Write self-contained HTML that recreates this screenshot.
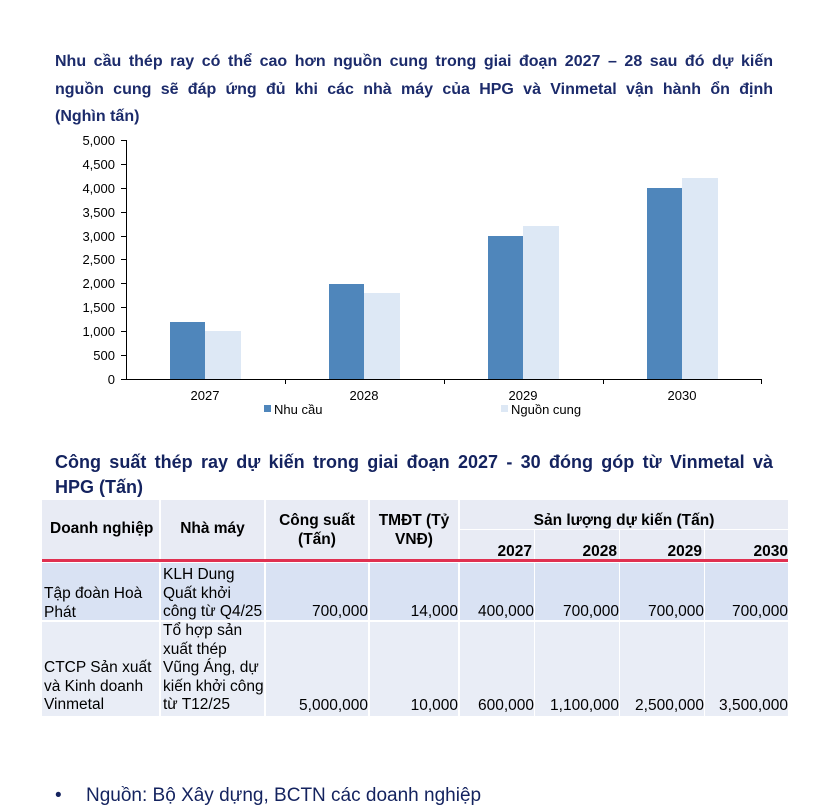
<!DOCTYPE html>
<html><head><meta charset="utf-8"><style>
body{margin:0;background:#fff;width:826px;height:811px;position:relative;overflow:hidden;font-family:"Liberation Sans",Arial,sans-serif}
.t{position:absolute;color:#1c2b6b;font-weight:bold;font-size:16px;white-space:nowrap}
.j{text-align:justify;text-align-last:justify}
.c{position:absolute;box-sizing:border-box;font-size:15.5px;color:#000;line-height:18.5px;white-space:nowrap}
</style></head><body>
<div class="t j" style="left:55px;top:52px;width:718px;line-height:20px">Nhu cầu thép ray có thể cao hơn nguồn cung trong giai đoạn 2027 – 28 sau đó dự kiến</div>
<div class="t j" style="left:55px;top:80px;width:718px;line-height:20px">nguồn cung sẽ đáp ứng đủ khi các nhà máy của HPG và Vinmetal vận hành ổn định</div>
<div class="t" style="left:55px;top:107px;line-height:20px">(Nghìn tấn)</div>
<svg style="position:absolute;left:0;top:0" width="826" height="430" font-family="Liberation Sans,Arial,sans-serif" font-size="13">
<g fill="#000" text-anchor="end">
<text x="115" y="145">5,000</text>
<text x="115" y="169">4,500</text>
<text x="115" y="193">4,000</text>
<text x="115" y="217">3,500</text>
<text x="115" y="241">3,000</text>
<text x="115" y="264">2,500</text>
<text x="115" y="288">2,000</text>
<text x="115" y="312">1,500</text>
<text x="115" y="336">1,000</text>
<text x="115" y="360">500</text>
<text x="115" y="384">0</text>
</g>
<g stroke="#000" stroke-width="1">
<line x1="126.5" y1="140" x2="126.5" y2="379"/>
<line x1="121" y1="379.5" x2="762" y2="379.5"/>
<line x1="121" y1="140.5" x2="126" y2="140.5"/><line x1="121" y1="164.5" x2="126" y2="164.5"/><line x1="121" y1="188.5" x2="126" y2="188.5"/><line x1="121" y1="212.5" x2="126" y2="212.5"/><line x1="121" y1="236.5" x2="126" y2="236.5"/><line x1="121" y1="259.5" x2="126" y2="259.5"/><line x1="121" y1="283.5" x2="126" y2="283.5"/><line x1="121" y1="307.5" x2="126" y2="307.5"/><line x1="121" y1="331.5" x2="126" y2="331.5"/><line x1="121" y1="355.5" x2="126" y2="355.5"/>
<line x1="285.5" y1="379" x2="285.5" y2="384"/><line x1="444.5" y1="379" x2="444.5" y2="384"/><line x1="603.5" y1="379" x2="603.5" y2="384"/><line x1="761.5" y1="379" x2="761.5" y2="384"/>
</g>
<g fill="#4f86bb">
<rect x="170" y="322" width="35" height="57"/><rect x="329" y="284" width="35" height="95"/><rect x="488" y="236" width="35" height="143"/><rect x="647" y="188" width="35" height="191"/>
</g>
<g fill="#dde8f5">
<rect x="205" y="331" width="36" height="48"/><rect x="364" y="293" width="36" height="86"/><rect x="523" y="226" width="36" height="153"/><rect x="682" y="178" width="36" height="201"/>
</g>
<g text-anchor="middle"><text x="205" y="400">2027</text><text x="364" y="400">2028</text><text x="523" y="400">2029</text><text x="682" y="400">2030</text></g>
<rect x="264" y="405" width="7" height="7" fill="#4f86bb"/><text x="274" y="414">Nhu cầu</text>
<rect x="501" y="405" width="7" height="7" fill="#dde8f5"/><text x="511" y="414">Nguồn cung</text>
</svg>
<div class="t j" style="left:55px;top:450px;width:718px;line-height:25px;font-size:18px;color:#14235f">Công suất thép ray dự kiến trong giai đoạn 2027 - 30 đóng góp từ Vinmetal và</div>
<div class="t" style="left:55px;top:475px;line-height:25px;font-size:18px;color:#14235f">HPG (Tấn)</div>
<!-- header -->
<div class="c" style="left:42px;top:500px;width:117px;height:59px;background:#e8ebf4;font-weight:bold;padding:20px 0 0 8px">Doanh nghiệp</div>
<div class="c" style="left:161px;top:500px;width:103px;height:59px;background:#e8ebf4;font-weight:bold;text-align:center;padding-top:20px">Nhà máy</div>
<div class="c" style="left:266px;top:500px;width:102px;height:59px;background:#e8ebf4;font-weight:bold;text-align:center;padding-top:12px">Công suất<br>(Tấn)</div>
<div class="c" style="left:370px;top:500px;width:88px;height:59px;background:#e8ebf4;font-weight:bold;text-align:center;padding-top:12px">TMĐT (Tỷ<br>VNĐ)</div>
<div class="c" style="left:460px;top:500px;width:328px;height:29px;background:#e8ebf4;font-weight:bold;text-align:center;padding-top:12px">Sản lượng dự kiến (Tấn)</div>
<div class="c" style="left:460px;top:530px;width:74px;height:29px;background:#e8ebf4;font-weight:bold;text-align:right;padding:14px 2px 0 0;line-height:16px">2027</div>
<div class="c" style="left:535px;top:530px;width:84px;height:29px;background:#e8ebf4;font-weight:bold;text-align:right;padding:14px 2px 0 0;line-height:16px">2028</div>
<div class="c" style="left:620px;top:530px;width:84px;height:29px;background:#e8ebf4;font-weight:bold;text-align:right;padding:14px 2px 0 0;line-height:16px">2029</div>
<div class="c" style="left:705px;top:530px;width:83px;height:29px;background:#e8ebf4;font-weight:bold;text-align:right;padding:14px 0 0 0;line-height:16px">2030</div>
<div style="position:absolute;left:42px;top:559px;width:746px;height:3px;background:#e03050"></div>
<!-- row1 -->
<div class="c" style="left:42px;top:563px;width:117px;height:57px;background:#d9e2f3;padding:22px 0 0 2px">Tập đoàn Hoà<br>Phát</div>
<div class="c" style="left:161px;top:563px;width:103px;height:57px;background:#d9e2f3;padding:3px 0 0 2px">KLH Dung<br>Quất khởi<br>công từ Q4/25</div>
<div class="c" style="left:266px;top:563px;width:102px;height:57px;background:#d9e2f3;text-align:right;padding-top:40px">700,000</div>
<div class="c" style="left:370px;top:563px;width:88px;height:57px;background:#d9e2f3;text-align:right;padding-top:40px">14,000</div>
<div class="c" style="left:460px;top:563px;width:74px;height:57px;background:#d9e2f3;text-align:right;padding-top:40px">400,000</div>
<div class="c" style="left:535px;top:563px;width:84px;height:57px;background:#d9e2f3;text-align:right;padding-top:40px">700,000</div>
<div class="c" style="left:620px;top:563px;width:84px;height:57px;background:#d9e2f3;text-align:right;padding-top:40px">700,000</div>
<div class="c" style="left:705px;top:563px;width:83px;height:57px;background:#d9e2f3;text-align:right;padding-top:40px">700,000</div>
<!-- row2 -->
<div class="c" style="left:42px;top:622px;width:117px;height:94px;background:#e9edf6;padding:37px 0 0 2px">CTCP Sản xuất<br>và Kinh doanh<br>Vinmetal</div>
<div class="c" style="left:161px;top:622px;width:103px;height:94px;background:#e9edf6;padding:0 0 0 2px">Tổ hợp sản<br>xuất thép<br>Vũng Áng, dự<br>kiến khởi công<br>từ T12/25</div>
<div class="c" style="left:266px;top:622px;width:102px;height:94px;background:#e9edf6;text-align:right;padding-top:75px">5,000,000</div>
<div class="c" style="left:370px;top:622px;width:88px;height:94px;background:#e9edf6;text-align:right;padding-top:75px">10,000</div>
<div class="c" style="left:460px;top:622px;width:74px;height:94px;background:#e9edf6;text-align:right;padding-top:75px">600,000</div>
<div class="c" style="left:535px;top:622px;width:84px;height:94px;background:#e9edf6;text-align:right;padding-top:75px">1,100,000</div>
<div class="c" style="left:620px;top:622px;width:84px;height:94px;background:#e9edf6;text-align:right;padding-top:75px">2,500,000</div>
<div class="c" style="left:705px;top:622px;width:83px;height:94px;background:#e9edf6;text-align:right;padding-top:75px">3,500,000</div>
<div style="position:absolute;left:55px;top:785px;font-size:19px;color:#14235f">•</div>
<div style="position:absolute;left:86px;top:785px;font-size:19px;color:#14235f">Nguồn: Bộ Xây dựng, BCTN các doanh nghiệp</div>
</body></html>
